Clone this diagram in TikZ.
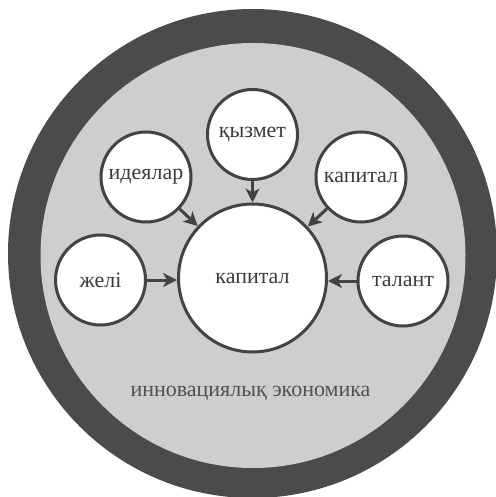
\documentclass[tikz,border=0pt]{standalone}
\usepackage{fontspec}
\setmainfont{Liberation Serif}
\usetikzlibrary{arrows.meta}
\definecolor{ringdark}{HTML}{4A4B4D}
\definecolor{fieldgray}{HTML}{CDCECF}
\definecolor{edgegray}{HTML}{424345}
\definecolor{inkgray}{HTML}{3C3C3E}
\definecolor{labelgray}{HTML}{505153}
\tikzset{
  bubble/.style={circle, draw=edgegray, line width=3pt, fill=white,
    minimum size=90pt, inner sep=0pt, text=inkgray,
    font=\fontsize{22pt}{24pt}\selectfont},
  core/.style={bubble, minimum size=148pt},
  feed/.style={draw=edgegray, line width=3pt,
    -{Stealth[length=14pt, width=14pt, inset=4pt]}}
}
\begin{document}
\begin{tikzpicture}[x=1pt, y=-1pt]
  \useasboundingbox (0,0) rectangle (495,497);
  % outer ring and inner field
  \fill[ringdark] (252.5,253.5) circle (244.5);
  \fill[fieldgray] (253,255.5) circle (212.5);
  % bubbles
  \node[core]   (main)    at (252.5,278) {капитал};
  \node[bubble] (network) at (100.5,280) {желі};
  \node[bubble] (ideas)   at (146,177)   {идеялар};
  \node[bubble] (service) at (252.5,134.5) {қызмет};
  \node[bubble] (capital) at (361,177)   {капитал};
  \node[bubble] (talent)  at (403,281)   {талант};
  % arrows into the core
  \draw[feed] (network.east) -- (main.west |- network.east);
  \draw[feed] (talent.west) -- (main.east |- talent.west);
  \draw[feed] (service) -- (main);
  \draw[feed] (ideas) -- (main);
  \draw[feed] (capital) -- (main);
  % caption
  \node[text=labelgray, font=\fontsize{22pt}{24pt}\selectfont] (economy) at (250.5,393) {инновациялық экономика};
\end{tikzpicture}
\end{document}
